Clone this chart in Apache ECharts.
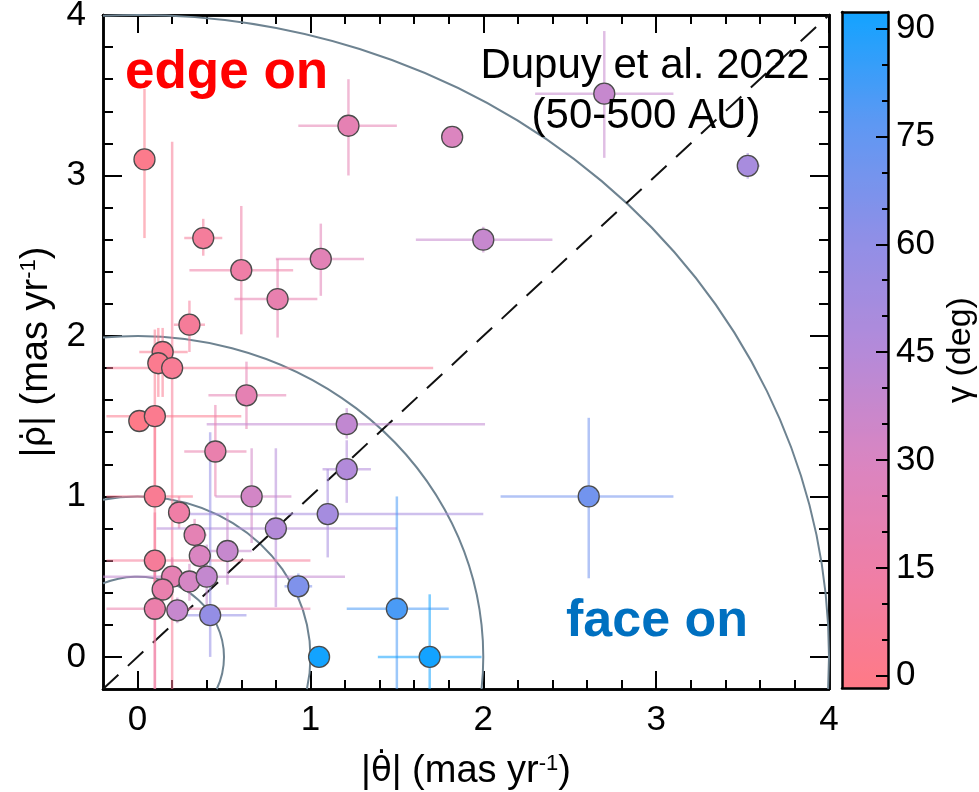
<!DOCTYPE html>
<html>
<head>
<meta charset="utf-8">
<script src="https://cdn.jsdelivr.net/npm/echarts@6/dist/echarts.min.js"></script>
<style>
html, body { margin: 0; padding: 0; background: #fff; }
#chart { width: 979px; height: 792px; }
</style>
</head>
<body>
<div id="chart"></div>
<script>
// Projected orbital motion of wide binaries: |θ̇| (tangential) vs |ρ̇| (radial), mas/yr,
// coloured by the angle γ (deg); error bars give the lower/upper range of each component.
const thetaDot = [0.04, 1.22, 1.82, 2.70, 3.53, 0.38, 2.00, 0.60, 1.06, 0.81,
                  0.30, 0.145, 0.12, 0.20, 0.01, 0.10, 0.63, 1.21, 0.45, 1.21,
                  0.10, 0.66, 0.24, 1.10, 0.33, 0.80, 0.36, 0.52, 0.10, 0.20,
                  0.30, 0.40, 0.145, 0.93, 0.10, 0.23, 0.42, 1.50, 1.05, 1.69, 2.61];
const rhoDot   = [3.10, 3.31, 3.24, 3.51, 3.06, 2.61, 2.60, 2.41, 2.48, 2.23,
                  2.07, 1.90, 1.83, 1.80, 1.47, 1.50, 1.63, 1.45, 1.28, 1.17,
                  1.00, 1.00, 0.90, 0.89, 0.76, 0.80, 0.63, 0.66, 0.60, 0.50,
                  0.47, 0.50, 0.42, 0.44, 0.30, 0.29, 0.26, 0.30, 0.00, 0.00, 1.00];
const gammaDeg = [3, 22, 29, 38, 50, 10, 38, 15, 24, 20,
                  9, 5, 4, 7, 1, 4, 22, 40, 19, 46,
                  6, 33, 15, 51, 23, 45, 30, 38, 9, 22,
                  32, 39, 19, 65, 18, 38, 58, 79, 90, 90, 69];
const thetaLo  = [0.00, 0.93, 1.82, 2.30, 3.47, 0.27, 1.61, 0.30, 0.80, 0.56,
                  0.21, 0.01, 0.06, -0.18, 0.01, -0.18, 0.41, 0.40, 0.27, 1.07,
                  -0.18, 0.45, 0.20, 0.20, 0.27, 0.11, 0.30, 0.40, -0.18, 0.13,
                  0.22, -0.20, 0.10, 0.85, -0.18, 0.17, 0.27, 1.21, 1.02, 1.39, 2.10];
const thetaHi  = [0.09, 1.50, 1.82, 3.10, 3.60, 0.49, 2.40, 0.90, 1.31, 1.04,
                  0.39, 0.29, 0.18, 1.71, 0.01, 0.60, 0.86, 2.01, 0.63, 1.35,
                  0.32, 0.89, 0.28, 2.00, 0.40, 1.50, 0.42, 0.66, 1.00, 0.27,
                  0.38, 1.20, 0.19, 1.01, 1.00, 0.29, 0.63, 1.80, 1.09, 1.99, 3.10];
const rhoLo    = [2.61, 3.00, 3.24, 3.11, 2.98, 2.50, 2.52, 2.01, 2.25, 1.99,
                  1.90, 1.62, 1.62, -0.20, 1.47, 1.00, 1.42, 1.36, 1.00, 0.96,
                  -0.20, 0.71, 0.80, 0.62, 0.66, 0.31, 0.50, 0.45, 0.30, 0.40,
                  0.35, 0.30, 0.34, 0.36, -0.20, 0.21, 0.00, -0.20, -0.05, -0.20, 0.49];
const rhoHi    = [3.54, 3.60, 3.24, 3.90, 3.14, 2.73, 2.68, 2.81, 2.70, 2.48,
                  2.22, 2.05, 2.05, 3.21, 1.47, 2.04, 1.84, 1.55, 1.57, 1.35,
                  1.50, 1.30, 1.00, 1.17, 0.86, 1.30, 0.75, 0.90, 0.90, 0.62,
                  0.58, 0.70, 0.50, 0.52, 0.60, 0.37, 1.40, 1.00, 0.05, 0.39, 1.49];

// Reference circles of constant total motion and the |θ̇| = |ρ̇| diagonal
const circleRadii = [0.5, 1, 2, 4];
const diagonal = [[-0.2, -0.2], [4, 4]];

// Axis ranges and tick values
const axisRange = [-0.2, 4];
const majorTicks = [0, 1, 2, 3, 4];
const minorTicks = [0.2, 0.4, 0.6, 0.8, 1.2, 1.4, 1.6, 1.8, 2.2, 2.4, 2.6, 2.8,
                    3.2, 3.4, 3.6, 3.8];
const gammaRange = [-1.7, 92.3];
const gammaMajorTicks = [0, 15, 30, 45, 60, 75, 90];
const gammaMinorTicks = [5, 10, 20, 25, 35, 40, 50, 55, 65, 70, 80, 85];
const gammaColors = ['#ff7a86', '#ef7ea6', '#da85c1', '#b48ad9', '#8f8fe7', '#5e98f3', '#13a3ff'];

const FONT = '"Liberation Sans", Arial, Helvetica, sans-serif';
const SYMBOL_FONT = '"DejaVu Sans", "Liberation Sans", sans-serif';
const TICK_FONT = 35;
const TITLE_FONT = 38;

const points = thetaDot.map((t, i) => [t, rhoDot[i], gammaDeg[i]]);
const errorBars = thetaDot.map((t, i) =>
  [t, rhoDot[i], gammaDeg[i], thetaLo[i], thetaHi[i], rhoLo[i], rhoHi[i]]);

const titleRich = {
  g: { fontFamily: SYMBOL_FONT, fontSize: TITLE_FONT - 4, color: '#000' },
  s: { fontSize: 22, fontFamily: FONT, color: '#000', verticalAlign: 'top' }
};

function frameAxis(kind, position, major, showLabel, extra) {
  const ax = {
    type: 'value', gridIndex: 0, position: position,
    min: axisRange[0], max: axisRange[1],
    axisLine: { show: true, onZero: false, lineStyle: { color: '#000', width: 2.5 } },
    axisTick: {
      show: true, inside: true,
      length: major ? (kind === 'y' ? 19 : 18) : (kind === 'y' ? 10 : 9),
      customValues: major ? majorTicks : minorTicks,
      lineStyle: { color: '#000', width: 2 }
    },
    axisLabel: {
      show: showLabel, customValues: majorTicks,
      margin: kind === 'y' ? 17 : 14,
      color: '#000', fontFamily: FONT, fontSize: TICK_FONT
    },
    splitLine: { show: false }
  };
  return Object.assign(ax, extra || {});
}

const xAxes = [
  frameAxis('x', 'bottom', true, true, {
    name: '|{g|\u03B8\u0307}| (mas yr{s|-1})',
    nameLocation: 'middle', nameGap: 64,
    nameTextStyle: { color: '#000', fontFamily: FONT, fontSize: TITLE_FONT, rich: titleRich }
  }),
  frameAxis('x', 'bottom', false, false),
  frameAxis('x', 'top', true, false),
  frameAxis('x', 'top', false, false),
  // colour bar frame (bottom and top edges)
  { type: 'value', gridIndex: 1, position: 'bottom', min: 0, max: 1, z: 10,
    axisLine: { show: true, onZero: false, lineStyle: { color: '#000', width: 2.5 } },
    axisTick: { show: false }, axisLabel: { show: false }, splitLine: { show: false } },
  { type: 'value', gridIndex: 1, position: 'top', min: 0, max: 1, z: 10,
    axisLine: { show: true, onZero: false, lineStyle: { color: '#000', width: 2.5 } },
    axisTick: { show: false }, axisLabel: { show: false }, splitLine: { show: false } }
];

const yAxes = [
  frameAxis('y', 'left', true, true, {
    name: '|{g|\u03C1\u0307}| (mas yr{s|-1})',
    nameLocation: 'middle', nameGap: 42, nameRotate: 90,
    nameTextStyle: { color: '#000', fontFamily: FONT, fontSize: TITLE_FONT, rich: titleRich }
  }),
  frameAxis('y', 'left', false, false),
  frameAxis('y', 'right', true, false),
  frameAxis('y', 'right', false, false),
  // colour bar scale
  { type: 'value', gridIndex: 1, position: 'right', min: gammaRange[0], max: gammaRange[1], z: 10,
    axisLine: { show: true, onZero: false, lineStyle: { color: '#000', width: 2.5 } },
    axisTick: { show: true, inside: true, length: 12, customValues: gammaMajorTicks,
                lineStyle: { color: '#000', width: 2 } },
    axisLabel: { show: true, customValues: gammaMajorTicks, margin: 8,
                 color: '#000', fontFamily: FONT, fontSize: TICK_FONT },
    splitLine: { show: false },
    name: '\u03B3 (deg)', nameLocation: 'middle', nameGap: 56, nameRotate: 90,
    nameTextStyle: { color: '#000', fontFamily: FONT, fontSize: 34 } },
  { type: 'value', gridIndex: 1, position: 'right', min: gammaRange[0], max: gammaRange[1], z: 10,
    axisLine: { show: false, onZero: false },
    axisTick: { show: true, inside: true, length: 6, customValues: gammaMinorTicks,
                lineStyle: { color: '#000', width: 2 } },
    axisLabel: { show: false }, splitLine: { show: false } },
  { type: 'value', gridIndex: 1, position: 'left', min: gammaRange[0], max: gammaRange[1], z: 10,
    axisLine: { show: true, onZero: false, lineStyle: { color: '#000', width: 2.5 } },
    axisTick: { show: false }, axisLabel: { show: false }, splitLine: { show: false } }
];

function renderCircle(params, api) {
  const r = api.value(0);
  const m = axisRange[0];
  const edge = Math.sqrt(r * r - m * m);
  const s = api.coord([m, edge]);
  const e = api.coord([edge, m]);
  const rx = api.size([r, 0])[0];
  const ry = api.size([0, r])[1];
  return {
    type: 'path',
    shape: { pathData: 'M' + s[0] + ' ' + s[1] + ' A' + rx + ' ' + ry + ' 0 0 1 ' + e[0] + ' ' + e[1] },
    style: { stroke: '#6e8391', lineWidth: 2, fill: null }
  };
}

function renderErrorBar(params, api) {
  const x = api.value(0), y = api.value(1);
  const a = api.coord([api.value(3), y]), b = api.coord([api.value(4), y]);
  const c = api.coord([x, api.value(5)]), d = api.coord([x, api.value(6)]);
  const style = { stroke: api.visual('color'), lineWidth: 2.5, opacity: 0.55 };
  return {
    type: 'group',
    children: [
      { type: 'line', shape: { x1: a[0], y1: a[1], x2: b[0], y2: b[1] }, style: style },
      { type: 'line', shape: { x1: c[0], y1: c[1], x2: d[0], y2: d[1] }, style: style }
    ]
  };
}

const option = {
  animation: false,
  backgroundColor: '#fff',
  grid: [
    { left: 103, top: 15, width: 726, height: 674, show: false, outerBoundsMode: 'none', containLabel: false },
    { left: 842, top: 12, width: 46, height: 676, show: false, outerBoundsMode: 'none', containLabel: false }
  ],
  xAxis: xAxes,
  yAxis: yAxes,
  visualMap: {
    type: 'continuous', min: 0, max: 90, dimension: 2, seriesIndex: [2, 3],
    calculable: false, hoverLink: false, realtime: false,
    left: 842, top: 12, itemWidth: 46, itemHeight: 676, padding: 0,
    text: null, inRange: { color: gammaColors }, z: 1
  },
  series: [
    {
      type: 'custom', name: 'circles', xAxisIndex: 0, yAxisIndex: 0, silent: true, z: 1,
      data: circleRadii.map(r => [r]), renderItem: renderCircle
    },
    {
      type: 'line', name: 'diagonal', xAxisIndex: 0, yAxisIndex: 0, silent: true, z: 1,
      data: diagonal, symbol: 'none',
      lineStyle: { color: '#111', width: 2, type: [21, 13] }
    },
    {
      type: 'custom', name: 'ranges', xAxisIndex: 0, yAxisIndex: 0, silent: true, z: 2,
      data: errorBars, encode: { x: 0, y: 1 }, renderItem: renderErrorBar
    },
    {
      type: 'scatter', name: 'systems', xAxisIndex: 0, yAxisIndex: 0, z: 3,
      data: points, encode: { x: 0, y: 1 }, symbol: 'circle', symbolSize: 21,
      itemStyle: { borderColor: '#4b4b4b', borderWidth: 1.3, opacity: 1 },
      emphasis: { disabled: true }
    }
  ],
  graphic: [
    { type: 'text', x: 125, y: 73, z: 100, silent: true,
      style: { text: 'edge on', font: 'bold 53px ' + FONT, fill: '#ff0000',
               align: 'left', verticalAlign: 'middle', textAlign: 'left', textVerticalAlign: 'middle' } },
    { type: 'text', x: 657, y: 622, z: 100, silent: true,
      style: { text: 'face on', font: 'bold 52px ' + FONT, fill: '#0070c0',
               align: 'center', verticalAlign: 'middle', textAlign: 'center', textVerticalAlign: 'middle' } },
    { type: 'text', x: 645, y: 66, z: 100, silent: true,
      style: { text: 'Dupuy et al. 2022', font: '42px ' + FONT, fill: '#000',
               align: 'center', verticalAlign: 'middle', textAlign: 'center', textVerticalAlign: 'middle' } },
    { type: 'text', x: 646, y: 116, z: 100, silent: true,
      style: { text: '(50-500 AU)', font: '42px ' + FONT, fill: '#000',
               align: 'center', verticalAlign: 'middle', textAlign: 'center', textVerticalAlign: 'middle' } }
  ]
};

const chart = echarts.init(document.getElementById('chart'));
chart.setOption(option);
</script>
</body>
</html>
